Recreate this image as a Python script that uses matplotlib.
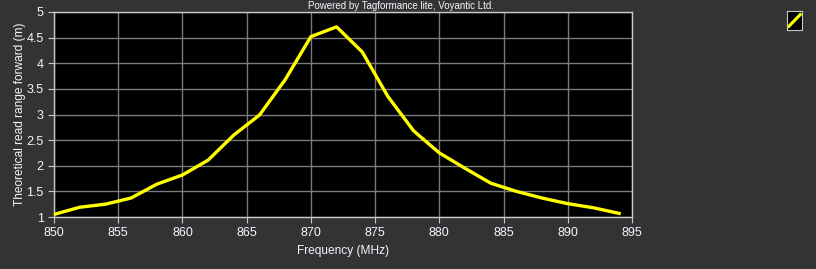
import numpy as np
import matplotlib.pyplot as plt

# Data
freq_mhz = [850, 852, 854, 856, 858, 860, 862, 864, 866, 868, 870, 872,
            874, 876, 878, 880, 882, 884, 886, 888, 890, 892, 894]
read_range_m = [1.05, 1.19, 1.25, 1.37, 1.64, 1.82, 2.11, 2.60, 2.99, 3.68, 4.52, 4.71,
                4.22, 3.35, 2.68, 2.25, 1.95, 1.66, 1.50, 1.37, 1.26, 1.18, 1.07]
x_ticks = [850, 855, 860, 865, 870, 875, 880, 885, 890, 895]
y_ticks = [1, 1.5, 2, 2.5, 3, 3.5, 4, 4.5, 5]

plt.rcParams['font.family'] = ['Liberation Sans', 'DejaVu Sans']

bg = '#333333'
txt = '#f2f6ff'

fig = plt.figure(figsize=(8.16, 2.69), dpi=100, facecolor=bg)
ax = fig.add_axes([54/816, 1 - 217/269, (632 - 54)/816, (217 - 12)/269])
ax.set_facecolor('black')

ax.plot(freq_mhz, read_range_m, color='#ffff00', lw=2.4, zorder=3)

ax.set_xlim(850, 895)
ax.set_ylim(1, 5)
ax.set_xticks(x_ticks)
ax.set_yticks(y_ticks)
ax.set_yticklabels([f'{v:g}' for v in y_ticks])
ax.grid(True, color='#7a7a7a', lw=1)
ax.set_axisbelow(True)

for s in ax.spines.values():
    s.set_color('#c8c8c8')
    s.set_linewidth(1)
ax.tick_params(colors='#c8c8c8', labelcolor=txt, labelsize=9, length=4, direction='out')

ax.set_xlabel('Frequency (MHz)', color=txt, fontsize=8.6, labelpad=4)
ax.set_ylabel('Theoretical read range forward (m)', color=txt, fontsize=8.6, labelpad=0.5)

fig.text(308/816, 1 - 6/269, 'Powered by Tagformance lite, Voyantic Ltd.',
         color=txt, fontsize=7, ha='left', va='center')

# small legend glyph box at top right
lax = fig.add_axes([787/816, 1 - 30/269, 15/816, 19/269])
lax.set_facecolor('black')
lax.plot([0, 1], [0, 1], color='#ffff00', lw=2.2)
lax.set_xlim(-0.15, 1.15)
lax.set_ylim(-0.3, 1.3)
lax.set_xticks([])
lax.set_yticks([])
for s in lax.spines.values():
    s.set_color('#c8c8c8')

fig.savefig('out.png', dpi=100, facecolor=bg)
